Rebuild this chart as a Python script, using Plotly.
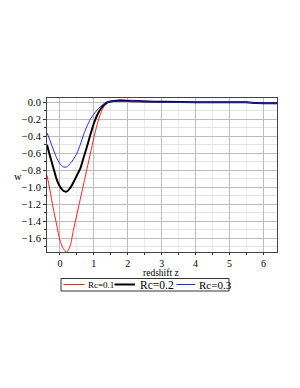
import plotly.graph_objects as go

z = [-0.38, -0.3, -0.2, -0.1, 0.0, 0.1, 0.2, 0.3, 0.4, 0.5, 0.6, 0.7, 0.8, 0.9, 1.0,
     1.1, 1.2, 1.3, 1.4, 1.5, 1.6, 1.8, 2.0, 2.5, 3.0, 4.0, 5.0, 5.5, 5.8, 6.0, 6.4]

w_rc01 = [-0.86, -1.02, -1.24, -1.43, -1.62, -1.72, -1.76, -1.69, -1.50, -1.32, -1.14,
          -0.96, -0.78, -0.60, -0.42, -0.26, -0.13, -0.05, -0.01, 0.01, 0.02, 0.025,
          0.025, 0.015, 0.005, 0.0, 0.0, 0.0, -0.01, -0.012, -0.012]
w_rc02 = [-0.50, -0.62, -0.76, -0.90, -0.99, -1.04, -1.05, -1.01, -0.94, -0.86, -0.78,
          -0.65, -0.52, -0.38, -0.25, -0.15, -0.08, -0.03, 0.0, 0.01, 0.015, 0.02,
          0.015, 0.01, 0.005, 0.0, 0.0, 0.0, -0.01, -0.012, -0.012]
w_rc03 = [-0.36, -0.44, -0.55, -0.65, -0.72, -0.76, -0.76, -0.72, -0.67, -0.60, -0.50,
          -0.38, -0.28, -0.20, -0.14, -0.09, -0.05, -0.02, 0.0, 0.005, 0.01, 0.01,
          0.01, 0.005, 0.0, 0.0, 0.0, 0.0, -0.01, -0.012, -0.012]

names = ["Rc=0.1", "Rc=0.2", "Rc=0.3"]
values = [w_rc01, w_rc02, w_rc03]
colors = ["#ff2020", "#000000", "#2424ff"]
widths = [1.0, 2.0, 1.0]
legend_font_sizes = [9, 11.5, 11]

x_ticks = [0, 1, 2, 3, 4, 5, 6]
y_ticks = [0.0, -0.2, -0.4, -0.6, -0.8, -1.0, -1.2, -1.4, -1.6]
x_title = "redshift z"
y_title = "w"

FONT = "Liberation Serif"

fig = go.Figure()
for name, w, color, width in zip(names, values, colors, widths):
    fig.add_trace(go.Scatter(
        x=z, y=w, mode="lines", name=name, showlegend=False,
        line=dict(color=color, width=width, shape="spline", smoothing=0.8)))

# page body has an 8px margin; figure is drawn offset by it
OFF = 8
W, H = 300 - OFF, 388 - OFF
# plot area in page pixels: x 47..277, y 98..252
L, R, T, B = 47, 277, 98, 252
def px_x(p):
    return (p - L) / (R - L)
def px_y(p):
    return (B - p) / (B - T)

shapes = [dict(type="rect", xref="paper", yref="paper",
               x0=px_x(61), x1=px_x(229), y0=px_y(278.5), y1=px_y(291),
               line=dict(color="#333", width=1), fillcolor="white")]
annotations = []
seg = [(63.5, 84.5, 86.5), (114.5, 135, 139), (176.5, 195, 197.5)]
for (x0, x1, tx), name, color, width, fs in zip(seg, names, colors, widths, legend_font_sizes):
    shapes.append(dict(type="line", xref="paper", yref="paper",
                       x0=px_x(x0), x1=px_x(x1), y0=px_y(284.5), y1=px_y(284.5),
                       line=dict(color=color, width=width)))
    annotations.append(dict(text=name, xref="paper", yref="paper", x=px_x(tx), y=px_y(285),
                            xanchor="left", yanchor="middle", showarrow=False, borderpad=0,
                            font=dict(family=FONT, size=fs, color="black")))

annotations.append(dict(text=x_title, xref="paper", yref="paper", x=px_x(161), y=px_y(272.5),
                        xanchor="center", yanchor="middle", showarrow=False, borderpad=0,
                        font=dict(family=FONT, size=9.5, color="black")))
annotations.append(dict(text=y_title, xref="paper", yref="paper", x=px_x(18), y=px_y(176),
                        xanchor="center", yanchor="middle", showarrow=False, borderpad=0,
                        font=dict(family=FONT, size=10.5, color="black")))

fig.update_layout(
    width=W, height=H,
    margin=dict(l=L - OFF, r=300 - R, t=T - OFF, b=388 - B, autoexpand=False),
    paper_bgcolor="white", plot_bgcolor="white",
    font=dict(family=FONT, size=10, color="black"),
    showlegend=False,
    shapes=shapes, annotations=annotations,
)
fig.update_xaxes(
    range=[-0.38, 6.4], tickvals=x_ticks, ticktext=[str(t) for t in x_ticks],
    showgrid=True, gridcolor="#bdbdbd", gridwidth=1,
    minor=dict(dtick=0.5, tick0=0, showgrid=True, gridcolor="#ececec", ticks="outside", ticklen=2, tickcolor="#333"),
    ticks="outside", ticklen=2, tickcolor="#333",
    showline=True, linecolor="#444", linewidth=1, mirror=True, zeroline=False,
    tickfont=dict(family=FONT, size=10),
)
fig.update_yaxes(
    range=[-1.76, 0.05], tickvals=y_ticks, ticktext=["0.0"] + ["\u2212" + f"{abs(t):.1f}" for t in y_ticks[1:]],
    showgrid=True, gridcolor="#bdbdbd", gridwidth=1,
    minor=dict(dtick=0.1, tick0=0, showgrid=True, gridcolor="#e4e4e4", ticks="outside", ticklen=2, tickcolor="#333"),
    ticks="outside", ticklen=3, tickcolor="#333",
    showline=True, linecolor="#444", linewidth=1, mirror=True, zeroline=False,
    tickfont=dict(family=FONT, size=10.5),
)
fig.write_html("out.html")
